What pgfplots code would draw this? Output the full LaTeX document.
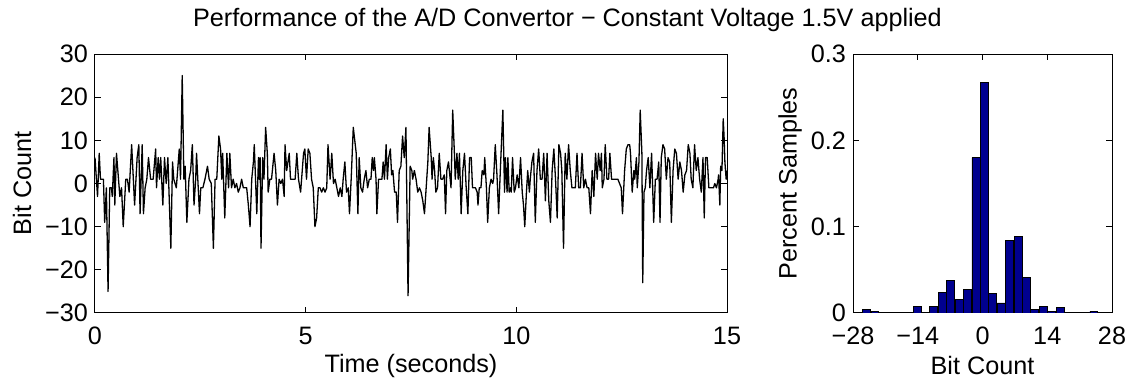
\documentclass[border=0pt]{standalone}
\usepackage{fontspec}
\setmainfont{Liberation Sans}
\usepackage{pgfplots}
\usepackage{pgfplotstable}
\pgfplotsset{compat=1.18}
\definecolor{histblue}{rgb}{0,0,0.56}

\pgfplotstableread{
t v
0.00 6
0.06 -3
0.10 7
0.13 1
0.20 1
0.23 -9
0.27 -1
0.31 -25
0.35 -1
0.39 -1
0.41 -3
0.45 6
0.47 -5
0.51 7
0.59 -3
0.63 -1
0.67 -10
0.73 1
0.77 1
0.81 -2
0.87 9
0.94 -5
1.00 6
1.04 9
1.07 -7
1.12 9
1.15 -7
1.19 -1
1.23 1
1.27 6
1.32 1
1.38 1
1.44 8
1.46 -1
1.50 6
1.53 1
1.56 6
1.61 -5
1.65 6
1.69 0
1.73 6
1.80 -15
1.84 5
1.87 1
1.93 -1
2.00 8
2.03 1
2.07 25
2.11 1
2.14 4
2.18 -9
2.23 1
2.27 3
2.31 9
2.35 -5
2.39 1
2.41 7
2.48 -7
2.51 -1
2.56 -1
2.61 1
2.67 4
2.71 1
2.76 0
2.81 -15
2.85 1
2.89 1
2.94 11
2.98 8
3.01 1
3.03 7
3.08 -8
3.13 7
3.17 -1
3.20 7
3.24 -1
3.28 1
3.32 -1
3.36 0
3.40 -2
3.44 -1
3.48 1
3.52 -1
3.56 -1
3.60 -1
3.64 -5
3.68 -10
3.72 1
3.76 5
3.78 9
3.84 -7
3.88 6
3.90 1
3.92 6
3.94 -15
3.98 6
4.01 1
4.05 13
4.09 7
4.11 -2
4.15 1
4.19 1
4.25 7
4.29 3
4.33 -5
4.37 1
4.41 0
4.45 1
4.49 -3
4.51 9
4.55 3
4.61 7
4.64 1
4.69 1
4.75 1
4.79 7
4.83 1
4.88 -2
4.95 7
4.98 8
5.02 1
5.06 8
5.10 7
5.14 1
5.18 -1
5.22 -10
5.26 -8
5.30 -1
5.34 -1
5.38 -2
5.42 -1
5.46 -2
5.50 -1
5.53 9
5.58 1
5.62 7
5.66 0
5.70 1
5.74 -1
5.78 -3
5.82 -1
5.86 -3
5.89 1
5.93 5
5.97 -2
6.01 -1
6.04 -7
6.08 1
6.13 13
6.20 7
6.24 -7
6.27 6
6.31 -1
6.35 -2
6.39 1
6.43 3
6.47 -1
6.51 1
6.55 1
6.58 6
6.61 3
6.63 6
6.67 1
6.69 -7
6.73 1
6.77 1
6.81 1
6.84 5
6.87 1
6.91 9
6.94 1
6.97 6
7.01 8
7.04 2
7.07 3
7.11 -2
7.15 -2
7.18 -9
7.22 3
7.26 4
7.30 11
7.34 6
7.38 13
7.43 -26
7.48 4
7.52 3
7.54 1
7.58 3
7.62 1
7.66 -2
7.70 -1
7.74 -2
7.78 -4
7.82 -7
7.86 -1
7.90 5
7.93 13
7.98 6
8.00 1
8.03 6
8.06 3
8.09 -2
8.13 -1
8.17 7
8.21 1
8.25 1
8.29 2
8.32 -7
8.35 3
8.39 5
8.41 3
8.45 -1
8.49 17
8.53 7
8.55 1
8.59 7
8.62 1
8.65 7
8.69 -7
8.73 3
8.77 7
8.81 -1
8.85 -7
8.89 6
8.93 6
8.96 -1
9.00 -1
9.03 -1
9.07 -2
9.09 -5
9.12 -1
9.16 -1
9.19 3
9.23 2
9.25 6
9.29 -1
9.32 -9
9.36 -1
9.40 1
9.44 0
9.46 1
9.50 9
9.54 2
9.58 -7
9.62 3
9.68 17
9.72 -2
9.74 6
9.78 -2
9.80 6
9.83 -2
9.86 -1
9.88 -2
9.91 6
9.95 -2
9.98 -1
10.02 2
10.06 -1
10.10 6
10.14 -2
10.17 -5
10.20 -10
10.24 -2
10.27 3
10.31 -2
10.33 1
10.37 5
10.41 7
10.45 -9
10.49 3
10.53 8
10.57 1
10.61 1
10.65 7
10.69 -4
10.73 7
10.77 -4
10.81 -9
10.85 3
10.89 8
10.93 1
10.97 -8
11.01 9
11.05 7
11.08 3
11.12 -15
11.16 7
11.20 1
11.24 9
11.28 3
11.32 -1
11.36 -1
11.40 -1
11.44 7
11.48 -1
11.52 -1
11.56 7
11.60 -1
11.64 1
11.68 -1
11.72 -1
11.76 -7
11.80 3
11.84 -3
11.88 7
11.92 1
11.95 7
11.99 3
12.02 7
12.04 -1
12.08 1
12.11 9
12.15 1
12.19 1
12.22 7
12.26 1
12.30 1
12.34 1
12.37 1
12.41 1
12.45 0
12.49 -1
12.52 -7
12.57 3
12.61 8
12.65 9
12.69 9
12.71 7
12.75 -2
12.79 3
12.81 1
12.85 6
12.87 -1
12.91 5
12.94 17
12.98 7
13.00 -23
13.03 -2
13.06 -1
13.09 3
13.13 6
13.17 -1
13.21 7
13.23 1
13.26 -9
13.30 1
13.34 1
13.38 5
13.41 -9
13.44 6
13.48 9
13.52 8
13.56 1
13.60 6
13.64 5
13.68 -9
13.72 3
13.76 8
13.80 7
13.84 1
13.88 5
13.92 3
13.96 -2
14.00 2
14.04 3
14.08 9
14.12 7
14.15 1
14.19 -1
14.23 9
14.27 3
14.31 6
14.35 1
14.39 -2
14.43 6
14.46 -8
14.49 6
14.53 6
14.57 -1
14.61 -1
14.65 -1
14.68 -1
14.71 0
14.75 -1
14.79 1
14.80 2
14.83 -5
14.85 4
14.88 3
14.91 15
14.93 11
14.95 5
14.98 1
15.00 3
}\series

\pgfplotstableread{
x y
-25.09 0.0039
-23.27 0.0019
-14.16 0.0077
-10.52 0.0077
-8.70 0.0243
-6.88 0.0378
-5.06 0.0154
-3.24 0.0270
-1.42 0.1800
0.40 0.2670
2.22 0.0224
4.04 0.0116
5.86 0.0838
7.68 0.0888
9.50 0.0409
11.32 0.0042
13.14 0.0077
14.96 0.0023
16.78 0.0062
24.08 0.0023
}\histdata

\pgfplotsset{
  mystyle/.style={
    scale only axis,
    font=\fontsize{12.6}{15}\selectfont,
    tick align=inside,
    major tick length=3pt,
    axis line style={line width=0.5pt},
    every tick/.style={black, line width=0.5pt},
    xtick pos=both, ytick pos=both,
    tick label style={font=\fontsize{12.6}{15}\selectfont},
    xticklabel style={yshift=-3.5pt},
    label style={font=\fontsize{12.6}{15}\selectfont},
  }
}

\begin{document}
\begin{tikzpicture}
\begin{axis}[mystyle,
  at={(0pt,0pt)}, anchor=south west,
  width=316pt, height=129.5pt,
  xmin=0, xmax=15, ymin=-30, ymax=30,
  xtick={0,5,10,15}, xticklabels={0,5,10,15},
  ytick={-30,-20,-10,0,10,20,30},
  yticklabels={−30,−20,−10,0,10,20,30},
  xlabel={Time (seconds)}, ylabel={Bit Count},
  xlabel style={at={(axis description cs:0.5,-0.2046)}, anchor=center},
  ylabel style={at={(axis description cs:-0.1155,0.5)}, anchor=center},
  title={Performance of the A/D Convertor − Constant Voltage 1.5V applied},
  title style={at={(axis description cs:0.7476,1.085)}, anchor=center, font=\fontsize{12.6}{15}\selectfont},
]
\addplot[black, line width=0.65pt, line join=round] table[x=t, y=v] {\series};
\end{axis}
\begin{axis}[mystyle,
  at={(379pt,0pt)}, anchor=south west,
  width=129.5pt, height=129.5pt,
  xmin=-28, xmax=28, ymin=0, ymax=0.3,
  xtick={-28,-14,0,14,28}, xticklabels={−28,−14,0,14,28},
  ytick={0,0.1,0.2,0.3}, yticklabels={0,0.1,0.2,0.3},
  xlabel={Bit Count}, ylabel={Percent Samples},
  xlabel style={at={(axis description cs:0.5,-0.2046)}, anchor=center},
  ylabel style={at={(axis description cs:-0.243,0.5)}, anchor=center},
]
\addplot[ybar, bar width=1.72, fill=histblue, draw=black, line width=0.4pt] table[x=x, y=y] {\histdata};
\end{axis}
\pgfresetboundingbox
\path[use as bounding box] (-47.5pt,-36pt) rectangle (520pt,156.5pt);
\end{tikzpicture}
\end{document}
